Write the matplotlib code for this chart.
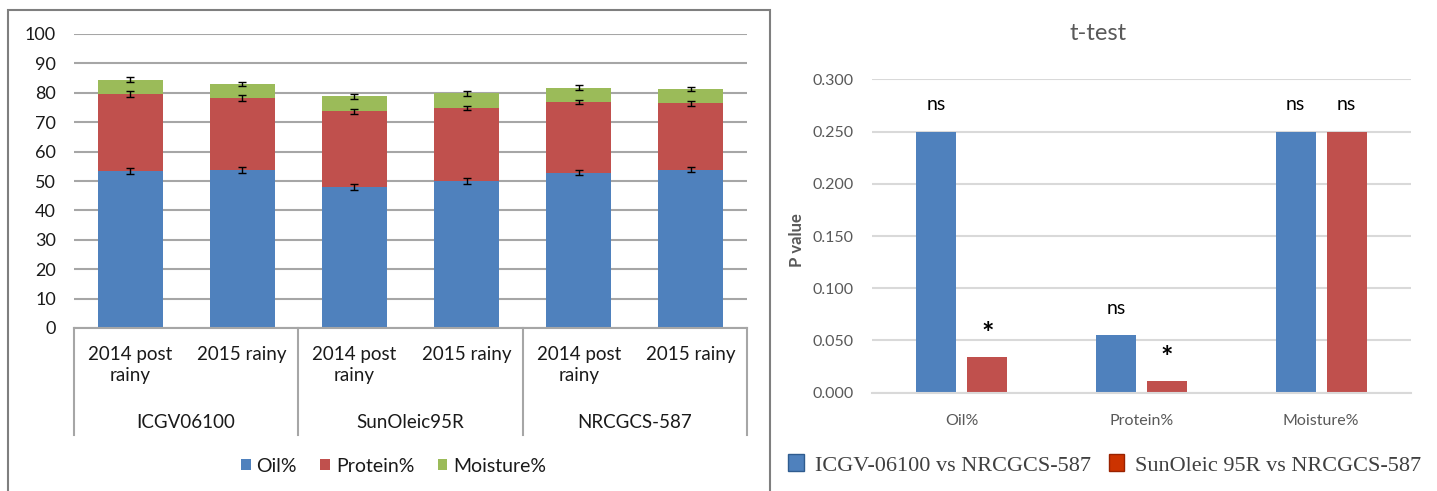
import matplotlib
matplotlib.use("Agg")
import matplotlib.pyplot as plt
from matplotlib.patches import Patch, Rectangle
from matplotlib.ticker import FormatStrFormatter
import numpy as np

plt.rcParams['font.family'] = ['Lato', 'DejaVu Sans']

# composition of kernels, stacked per season
seasons = ["2014 post\nrainy", "2015 rainy"] * 3
genotypes = ["ICGV06100", "SunOleic95R", "NRCGCS-587"]
oil = [53.4, 53.8, 47.9, 50.0, 52.8, 53.8]
protein = [26.2, 24.4, 25.8, 24.8, 24.1, 22.6]
moisture = [4.9, 4.8, 5.1, 5.0, 4.8, 4.9]
oil_err = [1.0, 1.1, 1.0, 1.0, 0.9, 0.9]
protein_err = [0.9, 0.9, 0.8, 0.7, 0.7, 0.8]
moisture_err = [0.9, 0.7, 0.8, 0.9, 0.8, 0.6]

# t-test p values
traits = ["Oil%", "Protein%", "Moisture%"]
p_icgv = [0.250, 0.055, 0.250]
p_sun = [0.034, 0.011, 0.250]
sig_icgv = ["ns", "ns", "ns"]
sig_sun = ["*", "*", "ns"]

blue = "#4F81BD"
red = "#C0504D"
green = "#9BBB59"
W, H = 1437, 491

fig = plt.figure(figsize=(W / 100, H / 100), dpi=100)

# ---- left: stacked bars ----
ax = fig.add_axes([74 / W, 1 - 328 / H, (747 - 74) / W, (328 - 34) / H])
x = np.arange(len(oil))
oil_a = np.array(oil)
prot_top = oil_a + np.array(protein)
moist_top = prot_top + np.array(moisture)

b1 = ax.bar(x, oil, 0.58, color=blue, label="Oil%", zorder=2)
b2 = ax.bar(x, protein, 0.58, bottom=oil, color=red, label="Protein%", zorder=2)
b3 = ax.bar(x, moisture, 0.58, bottom=prot_top, color=green, label="Moisture%", zorder=2)
for tops, errs in [(oil_a, oil_err), (prot_top, protein_err), (moist_top, moisture_err)]:
    ax.errorbar(x, tops, yerr=errs, fmt="none", ecolor="black", elinewidth=1,
                capsize=3.2, capthick=1, zorder=3)

ax.set_xlim(-0.5, 5.5)
ax.set_ylim(0, 100)
ax.set_yticks(range(0, 101, 10))
ax.yaxis.grid(True, color="#A6A6A6", lw=1.5, zorder=0)
ax.set_axisbelow(True)
for s in ["top", "right", "left"]:
    ax.spines[s].set_visible(False)
ax.spines["bottom"].set_color("#A6A6A6")
ax.spines["bottom"].set_linewidth(1.5)
ax.tick_params(axis="y", length=0, pad=13, labelsize=13, labelcolor="#1a1a1a")
ax.set_xticks(x)
ax.set_xticklabels(seasons, fontsize=13.5, color="#1a1a1a", linespacing=1.3, va="top")
ax.tick_params(axis="x", length=0, pad=13)

trans = ax.get_xaxis_transform()
for b in [-0.5, 1.5, 3.5, 5.5]:
    ax.plot([b, b], [0, -0.364], transform=trans, color="#A6A6A6", lw=1.5, clip_on=False)
for i, g in enumerate(genotypes):
    ax.text(2 * i + 0.5, -0.32, g, transform=trans, ha="center", va="center",
            fontsize=13.5, color="#1a1a1a")

fig.legend(handles=[b1, b2, b3], loc="center", bbox_to_anchor=(393.5 / W, 1 - 466 / H),
           ncol=3, frameon=False, fontsize=14, handlelength=0.5, handleheight=0.5,
           handletextpad=0.3, columnspacing=1.2, labelcolor="#1a1a1a")

# outer frame of the left chart
fig.patches.append(Rectangle((8 / W, -0.02), (770 - 8) / W, 1 - 10 / H + 0.02,
                             transform=fig.transFigure, fill=False,
                             edgecolor="#7F7F7F", lw=1.5))

# ---- right: t-test p values ----
ax2 = fig.add_axes([872 / W, 1 - 392.7 / H, (1411 - 872) / W, (392.7 - 79.3) / H])
xt = np.arange(len(traits))
bw, off = 0.223, 0.142
ax2.bar(xt - off, p_icgv, bw, color=blue, zorder=2)
ax2.bar(xt + off, p_sun, bw, color=red, zorder=2)
for i in range(len(traits)):
    for dx, v, lab in [(-off, p_icgv[i], sig_icgv[i]), (off, p_sun[i], sig_sun[i])]:
        if lab == "*":
            ax2.text(xt[i] + dx, v + 0.022, lab, ha="center", va="center",
                     fontsize=21, fontweight="bold", color="black")
        else:
            ax2.text(xt[i] + dx, v + 0.026, lab, ha="center", va="center",
                     fontsize=14, color="black")

ax2.set_xlim(-0.5, 2.5)
ax2.set_ylim(0, 0.3)
ax2.set_yticks(np.arange(0, 0.301, 0.05))
ax2.yaxis.set_major_formatter(FormatStrFormatter("%.3f"))
ax2.yaxis.grid(True, color="#D9D9D9", lw=1.5, zorder=0)
ax2.set_axisbelow(True)
for s in ["top", "right", "left"]:
    ax2.spines[s].set_visible(False)
ax2.spines["bottom"].set_color("#D9D9D9")
ax2.spines["bottom"].set_linewidth(1.5)
ax2.tick_params(axis="y", length=0, pad=13, labelsize=11.5, labelcolor="#595959")
ax2.set_xticks(xt)
ax2.set_xticklabels(traits, fontsize=11.5, color="#595959")
ax2.tick_params(axis="x", length=0, pad=15)

fig.text(1098 / W, 1 - 33 / H, "t-test", ha="center", va="center", fontsize=17,
         color="#595959")
fig.text(797 / W, 1 - 240 / H, "P value", ha="center", va="center", rotation=90,
         fontsize=12, fontweight="bold", color="#595959")

fig.legend(handles=[Patch(facecolor=blue, edgecolor="#2F5C8F"),
                    Patch(facecolor="#CC3300", edgecolor="#992200")],
           labels=["ICGV-06100 vs NRCGCS-587", "SunOleic 95R vs NRCGCS-587"],
           loc="center", bbox_to_anchor=(1105 / W, 1 - 465 / H), ncol=2, frameon=False,
           prop={"family": "Liberation Serif", "size": 16}, labelcolor="#404040",
           handlelength=0.7, handleheight=0.8, handletextpad=0.5, columnspacing=0.8)

fig.savefig("out.png", dpi=100)
